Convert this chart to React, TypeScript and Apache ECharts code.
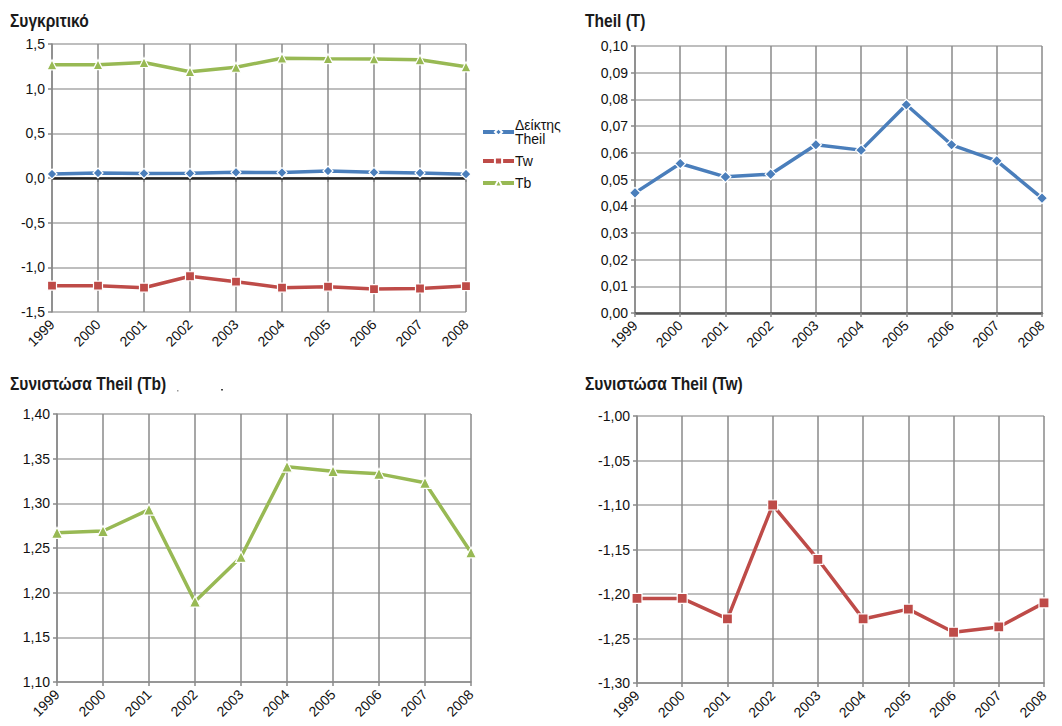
import React, { useEffect, useRef } from "react";
import * as echarts from "echarts";

const years = ["1999", "2000", "2001", "2002", "2003", "2004", "2005", "2006", "2007", "2008"];
const theilT = [0.045, 0.056, 0.051, 0.052, 0.063, 0.061, 0.078, 0.063, 0.057, 0.043];
const theilTb = [1.267, 1.269, 1.293, 1.19, 1.24, 1.341, 1.336, 1.333, 1.323, 1.245];
const theilTw = [-1.205, -1.205, -1.228, -1.1, -1.161, -1.228, -1.217, -1.243, -1.237, -1.21];

const titles = ["Συγκριτικό", "Theil (T)", "Συνιστώσα Theil (Tb)", "Συνιστώσα Theil (Tw)"];
const legendNames = ["Δείκτης Theil", "Tw", "Tb"];

const BLUE = "#4a7ebb";
const RED = "#be4b48";
const GREEN = "#98b954";
const VGRID = "#8a8a8a";
const HGRID = "#a9a9a9";

const LABEL_FONT = "'Liberation Sans', Arial, sans-serif";

function fmt(dec: number) {
  return (v: number) => v.toFixed(dec).replace(".", ",");
}

function xAxis(gridIndex: number, lineColor = VGRID, lineWidth = 1.5) {
  return {
    type: "category",
    gridIndex,
    data: years,
    boundaryGap: false,
    axisLine: { show: true, lineStyle: { color: lineColor, width: lineWidth } },
    axisTick: { show: true, length: 4, interval: 0, lineStyle: { color: VGRID, width: 1.5 } },
    axisLabel: {
      rotate: 45,
      interval: 0,
      margin: 10,
      color: "#111",
      fontSize: 14,
      fontFamily: LABEL_FONT,
    },
    splitLine: { show: true, interval: 0, lineStyle: { color: VGRID, width: 1.5 } },
  };
}

function yAxis(gridIndex: number, min: number, max: number, interval: number, dec: number) {
  return {
    type: "value",
    gridIndex,
    min,
    max,
    interval,
    axisLine: { show: true, lineStyle: { color: VGRID, width: 1.5 } },
    axisTick: { show: true, length: 4, lineStyle: { color: VGRID, width: 1.5 } },
    axisLabel: {
      margin: 7,
      color: "#111",
      fontSize: 14,
      fontFamily: LABEL_FONT,
      formatter: fmt(dec),
    },
    splitLine: { show: true, lineStyle: { color: HGRID, width: 1.5 } },
  };
}

function lineSeries(name: string, data: number[], color: string, symbol: string, size: number, idx: number, extra: any = {}) {
  return {
    type: "line",
    name,
    data,
    xAxisIndex: idx,
    yAxisIndex: idx,
    symbol,
    symbolSize: size,
    showAllSymbol: true,
    lineStyle: { color, width: 3.5 },
    itemStyle: { color, borderColor: "#fff", borderWidth: 1.2 },
    emphasis: { disabled: true },
    z: 5,
    ...extra,
  };
}

function titleText(text: string, x: number, y: number) {
  return {
    type: "text",
    x,
    y,
    scaleX: 0.82,
    style: {
      text,
      fill: "#1a1a1a",
      font: "bold 19px 'Liberation Sans', Arial, sans-serif",
      textAlign: "left",
      textVerticalAlign: "middle",
    },
  };
}

export default function App() {
  const ref = useRef<HTMLDivElement>(null);
  useEffect(() => {
    const chart = echarts.init(ref.current!, null, { renderer: "svg" });
    chart.setOption({
      animation: false,
      backgroundColor: "#fff",
      legend: {
        data: legendNames,
        orient: "vertical",
        left: 481,
        top: 118,
        itemWidth: 31,
        itemHeight: 9,
        itemGap: 8,
        padding: 0,
        selectedMode: false,
        lineStyle: { width: 4 },
        textStyle: { fontSize: 14, fontFamily: LABEL_FONT, color: "#111", lineHeight: 14, padding: [0, 0, 0, -4] },
        formatter: (n: string) => (n === "Δείκτης Theil" ? "Δείκτης\nTheil" : n),
      },
      grid: [
        { left: 52, right: 596, top: 44, height: 268 },
        { left: 635, right: 20, top: 46, height: 267 },
        { left: 57, right: 591, top: 414, height: 268 },
        { left: 637, right: 18, top: 416, height: 267 },
      ],
      xAxis: [xAxis(0), xAxis(1, "#555", 2.5), xAxis(2), xAxis(3)],
      yAxis: [
        yAxis(0, -1.5, 1.5, 0.5, 1),
        yAxis(1, 0, 0.1, 0.01, 2),
        yAxis(2, 1.1, 1.4, 0.05, 2),
        yAxis(3, -1.3, -1.0, 0.05, 2),
      ],
      series: [
        lineSeries("Δείκτης Theil", theilT, BLUE, "diamond", 10, 0, {
          markLine: {
            silent: true,
            symbol: "none",
            label: { show: false },
            lineStyle: { color: "#222", width: 2.5, type: "solid" },
            data: [{ yAxis: 0 }],
            z: 3,
          },
        }),
        lineSeries("Tw", theilTw, RED, "rect", 9, 0),
        lineSeries("Tb", theilTb, GREEN, "triangle", 10, 0),
        lineSeries("T", theilT, BLUE, "diamond", 11, 1),
        lineSeries("Tb ", theilTb, GREEN, "triangle", 11, 2),
        lineSeries("Tw ", theilTw, RED, "rect", 10, 3),
      ],
      graphic: [
        titleText(titles[0], 10, 20),
        titleText(titles[1], 585, 20),
        titleText(titles[2], 10, 383),
        titleText(titles[3], 585, 383),
        { type: "rect", shape: { x: 221, y: 389, width: 2, height: 1.5 }, style: { fill: "#444" } },
        { type: "rect", shape: { x: 177, y: 390, width: 1.5, height: 1.5 }, style: { fill: "#999" } },
      ],
    });
    return () => chart.dispose();
  }, []);
  return (
    <div
      ref={ref}
      style={{ position: "absolute", left: 0, top: 0, width: 1062, height: 726, background: "#fff" }}
    />
  );
}
